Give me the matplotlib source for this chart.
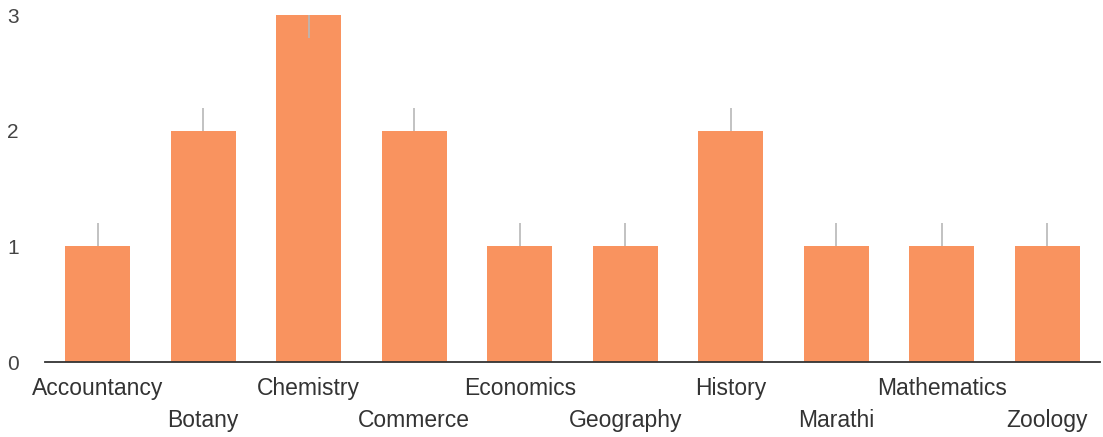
import matplotlib
matplotlib.use("Agg")
import matplotlib.pyplot as plt
import matplotlib.transforms as mtransforms

plt.rcParams['font.family'] = ['Liberation Sans', 'DejaVu Sans']

categories = ["Accountancy", "Botany", "Chemistry", "Commerce", "Economics",
              "Geography", "History", "Marathi", "Mathematics", "Zoology"]
values = [1, 2, 3, 2, 1, 1, 2, 1, 1, 1]
err_low = [0, 0, 0.2, 0, 0, 0, 0, 0, 0, 0]
err_high = [0.2, 0.2, 0, 0.2, 0.2, 0.2, 0.2, 0.2, 0.2, 0.2]
yticks = [0, 1, 2, 3]

fig = plt.figure(figsize=(11.03, 4.37), dpi=100)
ax = fig.add_axes([0.0408, 0.1716, 0.9565, 0.794])

x = list(range(len(categories)))
ax.bar(x, values, width=0.62, color='#F9935F', zorder=2)
ax.errorbar(x, values, yerr=[err_low, err_high], fmt='none', ecolor='#B8B8B8',
            elinewidth=1.2, capsize=0, zorder=3)

ax.set_xlim(-0.5, len(categories) - 0.5)
ax.set_ylim(0, 3)
ax.set_yticks(yticks)
ax.set_yticklabels([str(t) for t in yticks], fontsize=15, color='#444444')
ax.tick_params(axis='y', length=0, pad=19)
ax.set_xticks([])

for s in ['top', 'right', 'left']:
    ax.spines[s].set_visible(False)
ax.spines['bottom'].set_color('#333333')
ax.spines['bottom'].set_linewidth(1.3)

trans = mtransforms.blended_transform_factory(ax.transData, ax.transAxes)
for i, lab in enumerate(categories):
    yy = -0.075 if i % 2 == 0 else -0.170
    ax.text(i, yy, lab, transform=trans, ha='center', va='center',
            fontsize=16.5, color='#333333')

fig.savefig('out.png', dpi=100)
